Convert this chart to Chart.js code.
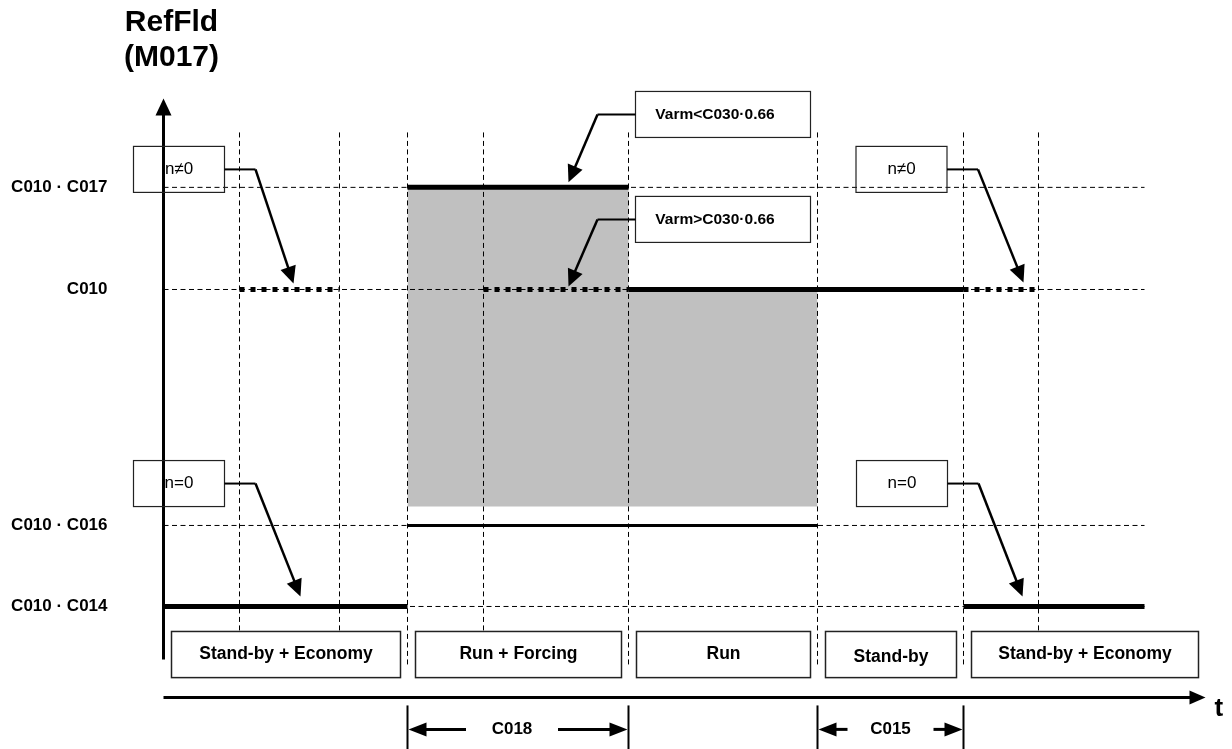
<!DOCTYPE html>
<html>
<head>
<meta charset="utf-8">
<script src="https://cdn.jsdelivr.net/npm/chart.js@4.4.1/dist/chart.umd.min.js"></script>
<style>
  html, body { margin: 0; padding: 0; background: #fff; }
  #wrap { width: 1232px; height: 749px; position: relative; }
</style>
</head>
<body>
<div id="wrap"><canvas id="chart"></canvas></div>
<script>
// Reference levels (value in % of C010)
const levelLabels = ['C010 · C014', 'C010 · C016', 'C010', 'C010 · C017'];
const levelValues = [10, 33, 100, 129];

// Phases along t
const phaseLabels = ['Stand-by + Economy', 'Run + Forcing', 'Run', 'Stand-by', 'Stand-by + Economy'];
const phaseBounds = [0, 24.4, 46.5, 65.4, 80.0, 104.2];

// Extra dashed markers inside phases
const markerTimes = [7.6, 17.6, 32.0, 87.5];

// RefFld - thick solid segments
const solidStart = [0, 24.4, 46.5, 80.0];
const solidEnd = [24.4, 46.5, 80.0, 98.1];
const solidLevel = [10, 129, 100, 10];

// RefFld - thin segment (C010 · C016)
const thinStart = [24.4];
const thinEnd = [65.4];
const thinLevel = [33];

// RefFld - dotted alternatives
const dotStart = [7.6, 32.0, 80.0];
const dotEnd = [17.6, 46.5, 87.5];
const dotLevel = [100, 100, 100];

// Grey band
const bandTimes = [24.4, 46.5, 46.5, 65.4];
const bandTop = [129, 129, 100, 100];
const bandFloor = 38.4;

// Time durations under the t axis
const durLabels = ['C018', 'C015'];
const durStart = [24.4, 65.4];
const durEnd = [46.5, 80.0];

// Callouts
const calloutTexts = ['n≠0', 'n=0', 'Varm<C030·0.66', 'Varm>C030·0.66', 'n≠0', 'n=0'];
const calloutTipTimes = [13.0, 13.7, 40.5, 40.5, 86.0, 85.9];
const calloutTipLevels = [100, 10, 129, 100, 100, 10];

// Layout (not data)
const FONT = '"Liberation Sans", Arial, sans-serif';
const lineEnd = 98.1;
const gridTop = 144.6;
const phaseBoxTop = 2.9;
const phaseBoxBottom = -10.2;
const boundaryBottom = -6.8;
const axisTop = 154.2;
const axisBottom = -5.05;
const tAxisLevel = -15.84;
const tAxisEnd = 104.2;
const durTop = -18.1;
const durBottom = -30.6;
const durArrow = -24.9;
const calloutLayout = [
  { t: 1.55, v: 134.1, w: 91, h: 46, elbow: 31, dy: -6, bold: false },
  { t: 1.55, v: 44.9, w: 91, h: 46, elbow: 31, dy: -10, bold: false },
  { t: 55.95, v: 149.7, w: 175, h: 46, elbow: -38, dy: -5, bold: true },
  { t: 55.95, v: 119.9, w: 175, h: 46, elbow: -38, dy: -3, bold: true },
  { t: 73.8, v: 134.1, w: 91, h: 46, elbow: 31, dy: -7, bold: false },
  { t: 73.85, v: 44.9, w: 91, h: 46, elbow: 31, dy: -10, bold: false }
];

// Helpers
function segments(starts, ends, levels) {
  const pts = [];
  starts.forEach((s, i) => {
    pts.push({ x: s, y: levels[i] }, { x: ends[i], y: levels[i] });
    pts.push({ x: ends[i], y: null });
  });
  return pts;
}

function vSegments(times, top, bottom) {
  const pts = [];
  times.forEach(t => {
    pts.push({ x: t, y: top }, { x: t, y: bottom }, { x: t, y: null });
  });
  return pts;
}

function arrowHead(ctx, x0, y0, x1, y1, len, half) {
  const a = Math.atan2(y1 - y0, x1 - x0);
  const bx = x1 - len * Math.cos(a), by = y1 - len * Math.sin(a);
  ctx.beginPath();
  ctx.moveTo(x1, y1);
  ctx.lineTo(bx + half * Math.sin(a), by - half * Math.cos(a));
  ctx.lineTo(bx - half * Math.sin(a), by + half * Math.cos(a));
  ctx.closePath();
  ctx.fill();
}

function arrow(ctx, x0, y0, x1, y1, len, half, lw) {
  const a = Math.atan2(y1 - y0, x1 - x0);
  ctx.lineWidth = lw;
  ctx.beginPath();
  ctx.moveTo(x0, y0);
  ctx.lineTo(x1 - (len - 1) * Math.cos(a), y1 - (len - 1) * Math.sin(a));
  ctx.stroke();
  arrowHead(ctx, x0, y0, x1, y1, len, half);
}

// Everything that is not a dataset: axes, labels, boxes, callouts
const diagramPlugin = {
  id: 'diagram',
  afterDatasetsDraw(chart) {
    const ctx = chart.ctx;
    const X = t => chart.scales.x.getPixelForValue(t);
    const Y = v => chart.scales.y.getPixelForValue(v);
    ctx.save();
    ctx.fillStyle = '#000';
    ctx.strokeStyle = '#000';
    ctx.lineCap = 'butt';

    // y axis
    arrow(ctx, X(0), Y(axisBottom), X(0), Y(axisTop), 17, 8, 3);
    // t axis
    arrow(ctx, X(0), Y(tAxisLevel), X(tAxisEnd), Y(tAxisLevel), 16, 7, 3);

    // Title
    ctx.font = 'bold 30px ' + FONT;
    ctx.textAlign = 'center';
    ctx.textBaseline = 'alphabetic';
    ctx.fillText('RefFld', X(0) + 8, 31);
    ctx.fillText('(M017)', X(0) + 8, 66);

    // t label
    ctx.font = 'bold 26px ' + FONT;
    ctx.textAlign = 'left';
    ctx.textBaseline = 'middle';
    ctx.fillText('t', X(tAxisEnd) + 9, Y(tAxisLevel) + 11);

    // Level labels
    ctx.font = 'bold 17px ' + FONT;
    ctx.textAlign = 'right';
    levelLabels.forEach((lab, i) => {
      ctx.fillText(lab, X(0) - 56, Y(levelValues[i]));
    });

    // Phase boxes
    ctx.lineWidth = 1.5;
    ctx.strokeStyle = '#222';
    ctx.font = 'bold 17.5px ' + FONT;
    ctx.textAlign = 'center';
    phaseLabels.forEach((lab, i) => {
      const x0 = X(phaseBounds[i]) + 8, x1 = X(phaseBounds[i + 1]) - 7;
      const y0 = Y(phaseBoxTop), y1 = Y(phaseBoxBottom);
      ctx.strokeRect(x0, y0, x1 - x0, y1 - y0);
      ctx.fillText(lab, (x0 + x1) / 2, (y0 + y1) / 2 + (lab === 'Stand-by' ? 3 : 0));
    });

    // Durations
    ctx.strokeStyle = '#000';
    ctx.font = 'bold 17px ' + FONT;
    durLabels.forEach((lab, i) => {
      const xa = X(durStart[i]), xb = X(durEnd[i]);
      const ya = Y(durArrow);
      ctx.lineWidth = 2;
      [xa, xb].forEach(x => {
        ctx.beginPath();
        ctx.moveTo(x, Y(durTop));
        ctx.lineTo(x, Y(durBottom));
        ctx.stroke();
      });
      const mid = (xa + xb) / 2 - (i === 0 ? 6 : 0);
      const gap = i === 0 ? 46 : 43;
      arrow(ctx, mid - gap, ya, xa + 1, ya, 18, 7, 3);
      arrow(ctx, mid + gap, ya, xb - 1, ya, 18, 7, 3);
      ctx.fillText(lab, mid, ya);
    });

    // Callouts
    calloutTexts.forEach((txt, i) => {
      const c = calloutLayout[i];
      const cx = X(c.t), cy = Y(c.v);
      ctx.lineWidth = 1.2;
      ctx.strokeStyle = '#222';
      ctx.strokeRect(cx - c.w / 2, cy - c.h / 2, c.w, c.h);
      ctx.font = (c.bold ? 'bold 15.5px ' : '17px ') + FONT;
      ctx.textAlign = 'center';
      ctx.fillText(txt, cx - (c.bold ? 8 : 0), cy);
      const sx = c.elbow > 0 ? cx + c.w / 2 : cx - c.w / 2;
      const ex = sx + c.elbow;
      const tx = X(calloutTipTimes[i]), ty = Y(calloutTipLevels[i]) + c.dy;
      ctx.strokeStyle = '#000';
      ctx.lineWidth = 2;
      ctx.beginPath();
      ctx.moveTo(sx, cy);
      ctx.lineTo(ex, cy);
      ctx.stroke();
      arrow(ctx, ex, cy, tx, ty, 17, 8, 2.5);
    });

    ctx.restore();
  }
};

const dashStyle = { borderColor: '#000', borderWidth: 1, borderDash: [5, 3.5], pointRadius: 0, fill: false, spanGaps: false };

new Chart(document.getElementById('chart'), {
  type: 'line',
  data: {
    datasets: [
      {
        label: 'band',
        data: bandTimes.map((t, i) => ({ x: t, y: bandTop[i] })),
        borderWidth: 0,
        borderColor: 'rgba(0,0,0,0)',
        backgroundColor: '#c0c0c0',
        fill: { value: bandFloor },
        pointRadius: 0,
        order: 5
      },
      Object.assign({ label: 'levels', data: segments(levelValues.map(() => 0), levelValues.map(() => lineEnd), levelValues), order: 4 }, dashStyle),
      Object.assign({ label: 'phase bounds', data: vSegments(phaseBounds.slice(1, 5), gridTop, boundaryBottom), order: 4 }, dashStyle),
      Object.assign({ label: 'markers', data: vSegments(markerTimes, gridTop, phaseBoxTop), order: 4 }, dashStyle),
      {
        label: 'RefFld thin',
        data: segments(thinStart, thinEnd, thinLevel),
        borderColor: '#000',
        borderWidth: 3,
        pointRadius: 0,
        borderCapStyle: 'butt',
        spanGaps: false,
        order: 2
      },
      {
        label: 'RefFld dotted',
        data: segments(dotStart, dotEnd, dotLevel),
        borderColor: '#000',
        borderWidth: 5,
        borderDash: [5, 6],
        pointRadius: 0,
        borderCapStyle: 'butt',
        spanGaps: false,
        order: 2
      },
      {
        label: 'RefFld',
        data: segments(solidStart, solidEnd, solidLevel),
        borderColor: '#000',
        borderWidth: 5,
        pointRadius: 0,
        borderCapStyle: 'butt',
        spanGaps: false,
        order: 1
      }
    ]
  },
  options: {
    responsive: true,
    maintainAspectRatio: false,
    animation: false,
    layout: { padding: 0 },
    plugins: { legend: { display: false }, tooltip: { enabled: false } },
    scales: {
      x: { type: 'linear', display: false, min: -16.35, max: 106.85 },
      y: { type: 'linear', display: false, min: -30.47, max: 182.2 }
    }
  },
  plugins: [diagramPlugin]
});
</script>
</body>
</html>
